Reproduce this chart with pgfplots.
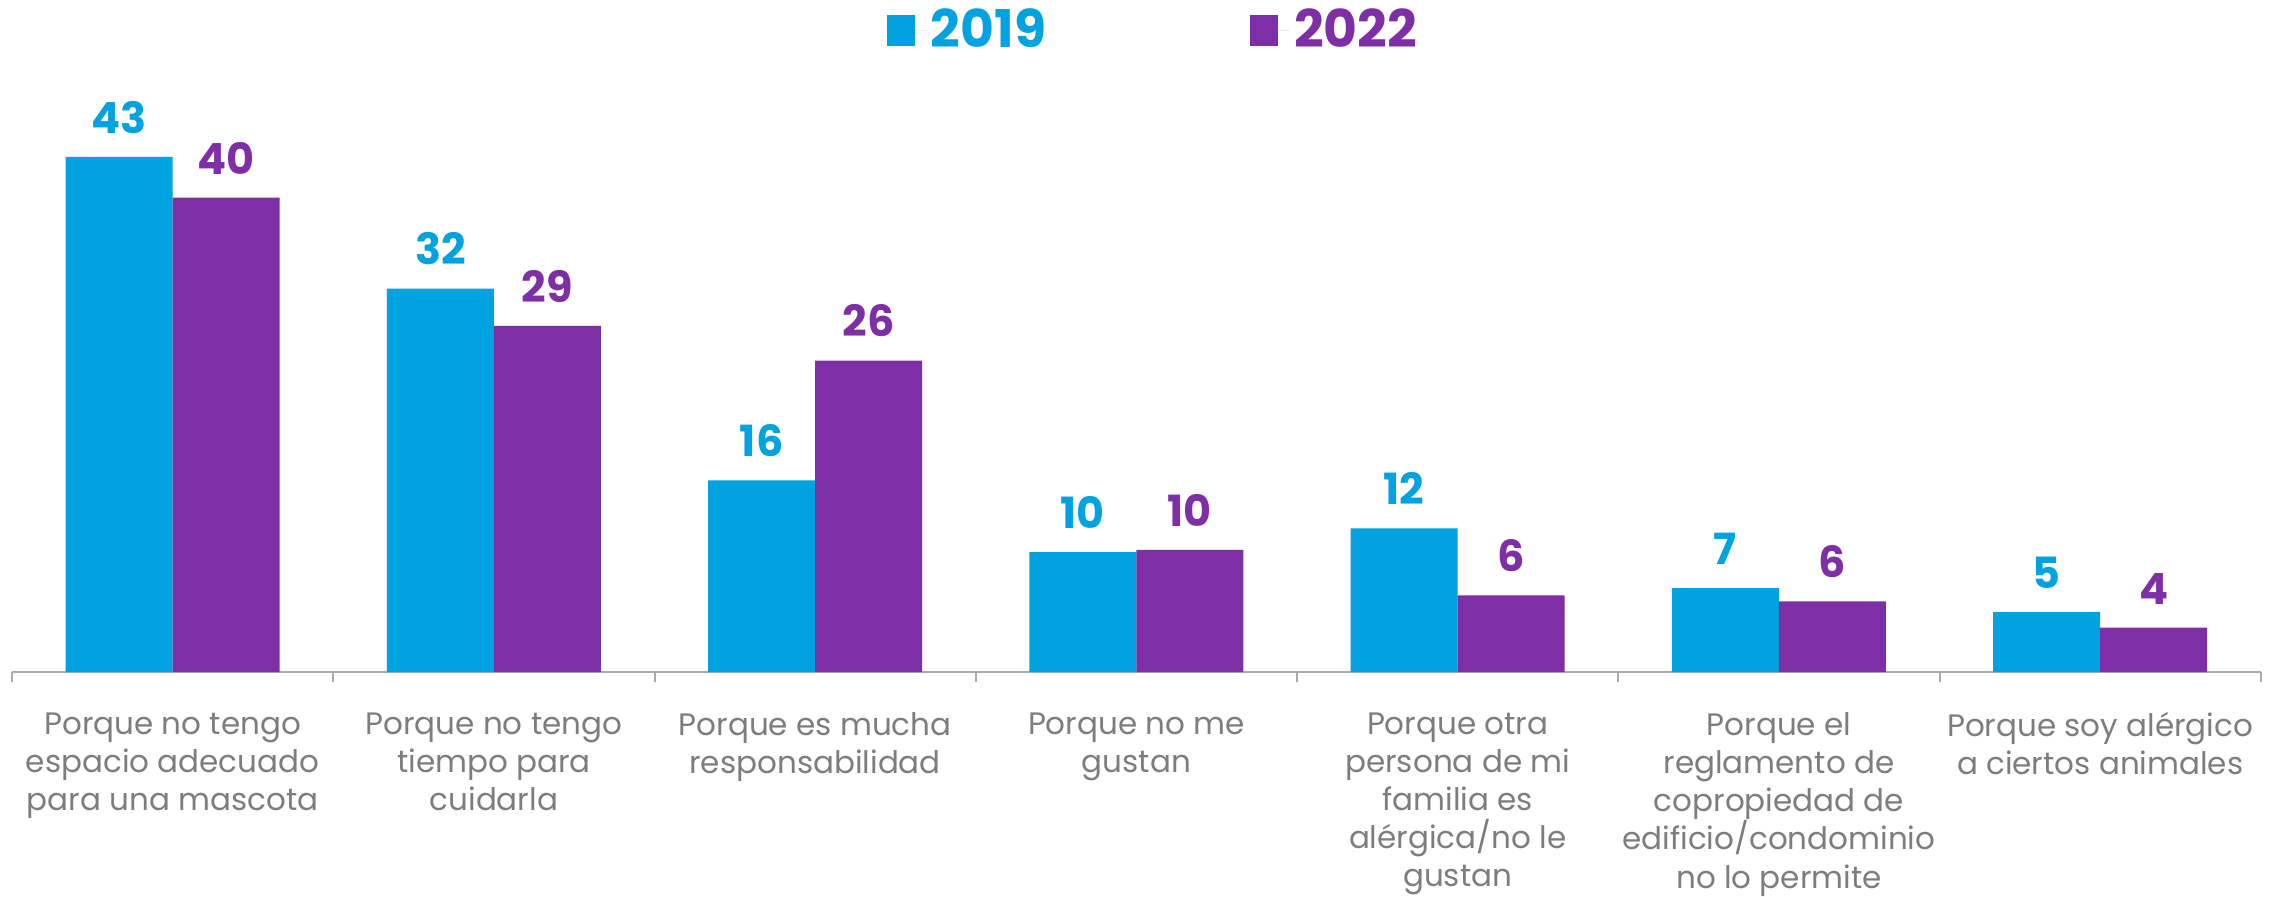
\documentclass[border=0pt]{standalone}
\usepackage{pgfplots}
\pgfplotsset{compat=1.18}
\usepackage{fontspec}
\setmainfont{Poppins}
\definecolor{c19}{RGB}{0,163,224}
\definecolor{c22}{RGB}{127,47,165}
\definecolor{labelgray}{RGB}{125,125,125}
\definecolor{axisgray}{RGB}{170,170,170}
\begin{document}
\begin{tikzpicture}
\useasboundingbox (-6pt,-112pt) rectangle (1137.5pt,336pt);
\begin{axis}[
  scale only axis,
  width=1124.5pt, height=299.5pt,
  xmin=-0.5, xmax=6.5, ymin=0, ymax=50,
  ybar=0pt, bar width=53.5pt,
  axis x line*=bottom, axis y line=none,
  ytick=\empty,
  axis line style={draw=axisgray, line width=1pt},
  xtick={0,...,6},
  xticklabels={
    {Porque no tengo\\espacio adecuado\\para una mascota},
    {Porque no tengo\\tiempo para\\cuidarla},
    {Porque es mucha\\responsabilidad},
    {Porque no me\\gustan},
    {Porque otra\\persona de mi\\familia es\\alérgica/no le\\gustan},
    {Porque el\\reglamento de\\copropiedad de\\edificio/condominio\\no lo permite},
    {Porque soy alérgico\\a ciertos animales}},
  major tick length=0pt,
  extra x ticks={-0.5,0.5,1.5,2.5,3.5,4.5,5.5,6.5},
  extra x tick labels={},
  extra x tick style={major tick length=5pt, tick align=outside,
     tick style={draw=axisgray, line width=1pt}},
  xticklabel style={anchor=north, inner sep=0pt, yshift=-20pt, align=center,
     text=labelgray, font=\fontsize{15.5}{19.1}\selectfont},
  /pgf/number format/assume math mode=true,
  nodes near coords={\pgfmathprintnumber[fixed,precision=0,assume math mode=true]{\pgfplotspointmeta}},
  every node near coord/.append style={anchor=south, inner sep=0pt, yshift=11.5pt,
     font=\fontsize{21.5}{22}\selectfont\bfseries},
  clip=false,
  legend columns=2,
  legend style={draw=none, fill=none, at={(0.5078,1.0718)}, anchor=center,
     font=\fontsize{26}{28}\selectfont\bfseries,
     /tikz/every even column/.append style={column sep=100pt}},
]
\addplot+[draw=none, fill=c19, every node near coord/.append style={text=c19},
  legend image code/.code={\fill[c19] (0pt,-7.75pt) rectangle (14pt,7.75pt);\path (0pt,0pt) -- (20pt,0pt);}]
  coordinates {(0,43) (1,32) (2,16) (3,10) (4,12) (5,7) (6,5)};
\addlegendentry{\textcolor{c19}{2019}}
\addplot+[draw=none, fill=c22, every node near coord/.append style={text=c22},
  legend image code/.code={\fill[c22] (0pt,-7.75pt) rectangle (14pt,7.75pt);\path (0pt,0pt) -- (20pt,0pt);}]
  coordinates {(0,39.6) (1,28.9) (2,26.0) (3,10.2) (4,6.4) (5,5.9) (6,3.7)};
\addlegendentry{\textcolor{c22}{2022}}
\end{axis}
\end{tikzpicture}
\end{document}
